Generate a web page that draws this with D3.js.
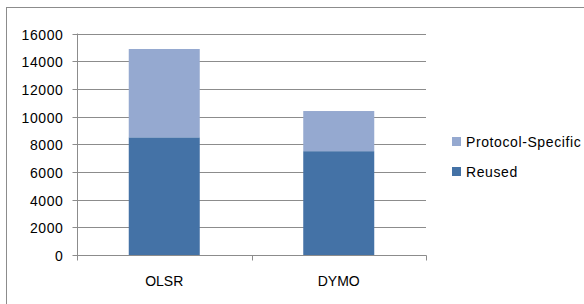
<!DOCTYPE html>
<html><head><meta charset="utf-8">
<script src="https://cdn.jsdelivr.net/npm/d3@7"></script>
<style>body{margin:0;background:#fff}svg{display:block}text{font-family:"Liberation Sans",Arial,sans-serif;fill:#000}</style>
</head><body><svg id="c" width="584" height="304"></svg>
<script>
const categories = ["OLSR", "DYMO"];
const reused = [8500, 7500];
const protocolSpecific = [6380, 2900];
const seriesNames = ["Reused", "Protocol-Specific"];
const yTicks = [0, 2000, 4000, 6000, 8000, 10000, 12000, 14000, 16000];
const colors = ["#4472a6", "#95a9d0"];

const svg = d3.select("#c");
// chart border
svg.append("rect").attr("x", 6.5).attr("y", 7.5).attr("width", 600).attr("height", 400)
  .attr("fill", "none").attr("stroke", "#8c8c8c").attr("stroke-width", 1);

const x = d3.scaleBand().domain(categories).range([77, 426]).paddingInner(0).paddingOuter(0);
const y = d3.scaleLinear().domain([0, 16000]).range([255, 33.5]);

// gridlines
svg.append("g").selectAll("line").data(yTicks.slice(1)).join("line")
  .attr("x1", 77).attr("x2", 426)
  .attr("y1", d => Math.round(y(d)) + 0.5).attr("y2", d => Math.round(y(d)) + 0.5)
  .attr("stroke", "#8c8c8c");

const data = categories.map((c, i) => ({cat: c, Reused: reused[i], "Protocol-Specific": protocolSpecific[i]}));
const stack = d3.stack().keys(seriesNames)(data);
const barW = 71;
svg.append("g").selectAll("g").data(stack).join("g").attr("fill", (d, i) => colors[i])
  .selectAll("rect").data(d => d).join("rect")
  .attr("x", d => x(d.data.cat) + x.bandwidth() / 2 - barW / 2)
  .attr("width", barW)
  .attr("y", d => y(d[1]))
  .attr("height", d => y(d[0]) - y(d[1]));

// y axis
const yAxis = d3.axisLeft(y).tickValues(yTicks).tickSize(5).tickPadding(9).tickFormat(d3.format("d"));
const ya = svg.append("g").attr("transform", "translate(77.5,0)").call(yAxis);
ya.select(".domain").attr("stroke", "#8c8c8c").attr("d", "M0," + y(16000) + "V" + (y(0)+0.5));
ya.selectAll(".tick line").attr("stroke", "#8c8c8c");
ya.selectAll(".tick").attr("transform", d => "translate(0," + (Math.round(y(d)) + 0.5) + ")");
ya.selectAll("text").attr("font-size", 14).attr("font-family", "'Liberation Sans',Arial,sans-serif").attr("fill", "#000").attr("letter-spacing", 0.6).attr("dy", "0.36em");

// x axis
const xa = svg.append("g").attr("transform", "translate(0," + (Math.round(y(0)) + 0.5) + ")");
xa.append("line").attr("x1", 77).attr("x2", 426.5).attr("stroke", "#8c8c8c");
xa.selectAll("line.t").data([77, x("DYMO"), 426]).join("line").attr("class", "t")
  .attr("x1", d => Math.round(d) + 0.5).attr("x2", d => Math.round(d) + 0.5).attr("y1", 0).attr("y2", 5)
  .attr("stroke", "#8c8c8c");
xa.selectAll("text").data(categories).join("text")
  .attr("x", d => x(d) + x.bandwidth() / 2).attr("y", 30)
  .attr("text-anchor", "middle").attr("font-size", 14).text(d => d);

// legend
const legendItems = ["Protocol-Specific", "Reused"];
const lg = svg.append("g");
legendItems.forEach((name, i) => {
  const yy = 137 + i * 30;
  lg.append("rect").attr("x", 452).attr("y", yy).attr("width", 9).attr("height", 9)
    .attr("fill", colors[seriesNames.indexOf(name)]);
  lg.append("text").attr("x", 466).attr("y", yy + 10).attr("font-size", 14).attr("letter-spacing", 0.6).text(name);
});
</script></body></html>
